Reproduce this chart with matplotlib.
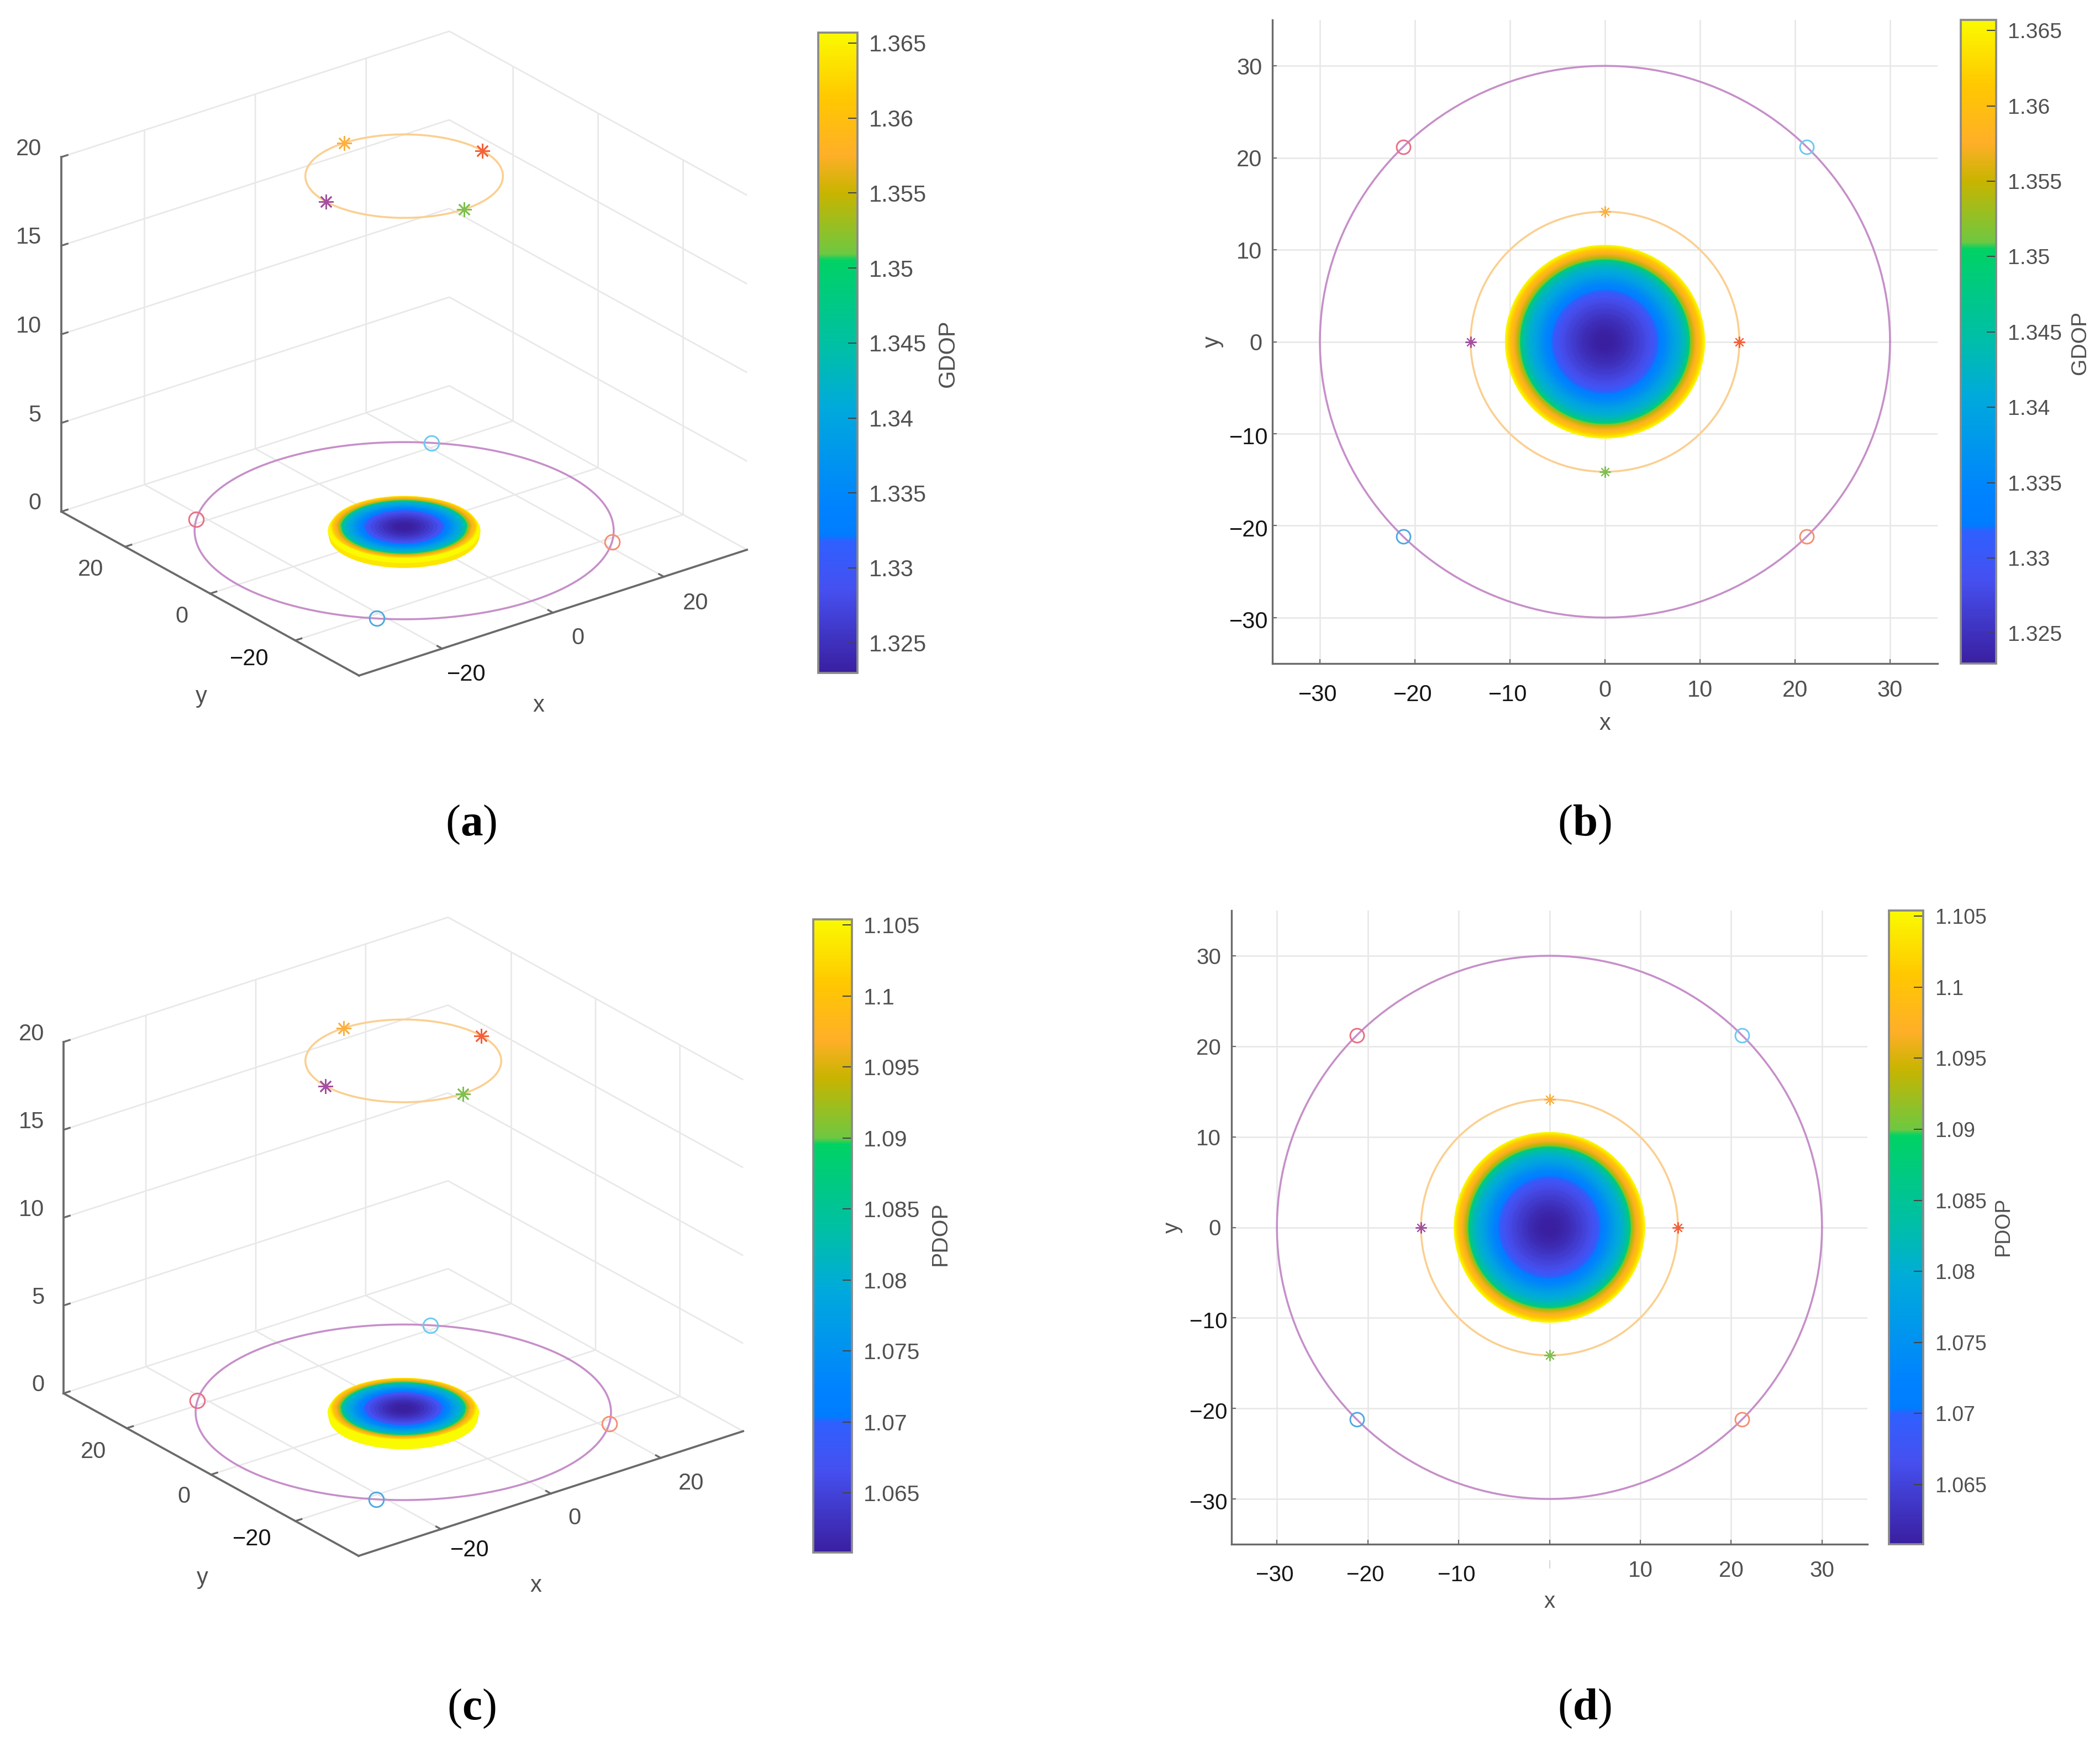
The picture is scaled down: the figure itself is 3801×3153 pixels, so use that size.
import numpy as np
import matplotlib
matplotlib.use("Agg")
import matplotlib.pyplot as plt
from matplotlib.colors import LinearSegmentedColormap, Normalize
from matplotlib.cm import ScalarMappable
from matplotlib.transforms import Affine2D
from mpl_toolkits.mplot3d import proj3d

plt.rcParams['font.family'] = ['Liberation Sans', 'DejaVu Sans']
plt.rcParams['mathtext.fontset'] = 'custom'
plt.rcParams['mathtext.rm'] = 'Liberation Serif'
plt.rcParams['mathtext.bf'] = 'Liberation Serif:bold'
plt.rcParams['grid.color'] = '#e8e8e8'
plt.rcParams['grid.linewidth'] = 0.65

W, H = 3801, 3153

# ground anchors (open circles) and airborne tags (asterisks)
anchor_x = [-21.21, 21.21, -21.21, 21.21]
anchor_y = [21.21, 21.21, -21.21, -21.21]
anchor_colors = ['#e86f86', '#6cc9f0', '#4ea8e0', '#f58f72']
tag_x = [0, 14.14, 0, -14.14]
tag_y = [14.14, 0, -14.14, 0]
tag_colors = ['#fbb040', '#f4603a', '#7fbf50', '#a4509f']
anchor_ring_radius = 30
tag_ring_radius = 14.14
tag_height = 20

# radial profile of the service area, last two stations are the rim seen in 3D
disc_r = [0, 0.6, 1.2, 1.8, 2.4, 3.0, 3.6, 4.2, 4.8, 5.2, 5.5, 5.7, 6.0, 6.4, 6.8, 7.2, 7.6, 8.0,
          8.4, 8.7, 8.9, 9.0, 9.2, 9.4, 9.6, 9.8, 10.0, 10.2, 10.4, 10.5, 10.85, 10.7]
disc_z = [0.19] * 30 + [0.0, -0.3]
gdop = [1.3230, 1.3231, 1.3235, 1.3241, 1.3248, 1.3257, 1.3266, 1.3276, 1.3288, 1.3300, 1.3315,
        1.3326, 1.3337, 1.3354, 1.3373, 1.3392, 1.3405, 1.3420, 1.3439, 1.3465, 1.3499, 1.3512,
        1.3546, 1.3561, 1.3574, 1.3593, 1.3608, 1.3627, 1.3648, 1.3657, 1.3640, 1.3640]
pdop = [1.0608, 1.0609, 1.0613, 1.0619, 1.0627, 1.0636, 1.0646, 1.0656, 1.0668, 1.0682, 1.0697,
        1.0708, 1.0720, 1.0737, 1.0757, 1.0777, 1.0791, 1.0806, 1.0827, 1.0853, 1.0889, 1.0902,
        1.0938, 1.0954, 1.0967, 1.0987, 1.1003, 1.1023, 1.1045, 1.1054, 1.1054, 1.1054]
top_stations = 30

gdop_ticks = [1.325, 1.33, 1.335, 1.34, 1.345, 1.35, 1.355, 1.36, 1.365]
gdop_labels = ['1.325', '1.33', '1.335', '1.34', '1.345', '1.35', '1.355', '1.36', '1.365']
pdop_ticks = [1.065, 1.07, 1.075, 1.08, 1.085, 1.09, 1.095, 1.1, 1.105]
pdop_labels = ['1.065', '1.07', '1.075', '1.08', '1.085', '1.09', '1.095', '1.1', '1.105']
xy_ticks_3d = [-20, 0, 20]
xy_labels_3d = ['\u221220', '0', '20']
z_ticks = [0, 5, 10, 15, 20]
z_labels = ['0', '5', '10', '15', '20']
xy_ticks_2d = [-30, -20, -10, 0, 10, 20, 30]
xy_labels_2d = ['\u221230', '\u221220', '\u221210', '0', '10', '20', '30']

# parula-like map with the hard steps the figure has
cmap_stops = [(0, '#3a1fa0'), (0.13, '#4650f0'), (0.205, '#2f60ff'), (0.215, '#007dff'),
              (0.26, '#0082ff'), (0.415, '#00aadc'), (0.5, '#00beaa'), (0.645, '#00d264'),
              (0.655, '#6ec841'), (0.75, '#c8b400'), (0.81, '#ffaf28'), (0.90, '#ffc800'),
              (1, '#fafa00')]
cmap = LinearSegmentedColormap.from_list('gdop', cmap_stops, N=512)

TEXT = '#505050'
DARK = '#151515'
AXIS = '#6a6a6a'
FS = 10

theta = np.linspace(0, 2 * np.pi, 181)


def rect_px(x0, y0, x1, y1):
    return [x0 / W, 1 - y1 / H, (x1 - x0) / W, (y1 - y0) / H]


def text_px(x, y, s, fs=FS, color=TEXT, **kw):
    return fig.text(x / W, 1 - y / H, s, fontsize=fs, color=color, ha='center', va='center', **kw)


def disc_mesh(values):
    r = np.array(disc_r)
    X = np.outer(r, np.cos(theta))
    Y = np.outer(r, np.sin(theta))
    Z = np.outer(np.array(disc_z), np.ones_like(theta))
    V = np.outer(np.array(values), np.ones_like(theta))
    return X, Y, Z, V


def add_colorbar(box, norm, ticks, labels, name, label_xy, fs):
    cax = fig.add_axes(rect_px(*box))
    cb = fig.colorbar(ScalarMappable(norm=norm, cmap=cmap), cax=cax)
    cb.set_ticks(ticks, labels=labels)
    cb.ax.tick_params(direction='in', length=4, width=0.5, color='#444444',
                      labelsize=fs, labelcolor=TEXT, pad=5)
    cb.outline.set_edgecolor('#8a8a8a')
    cb.outline.set_linewidth(0.9)
    text_px(label_xy[0], label_xy[1], name, fs=fs, rotation=90)


def place_3d(ax, left, right):
    # scale and shift the square axes so the floor corners land where they should
    fig.canvas.draw()
    M = ax.get_proj()
    xl, yl, _ = proj3d.proj_transform(-35, 35, 0, M)
    xr, yr, _ = proj3d.proj_transform(35, -35, 0, M)
    pl = ax.transData.transform((xl, yl))
    pr = ax.transData.transform((xr, yr))
    pos = ax.get_position()
    k = (right[0] - left[0]) / (pr[0] - pl[0])
    side = pos.width * W * k
    x0 = pos.x0 * W + (pl[0] - pos.x0 * W) * k
    y0 = pos.y0 * H + (pl[1] - pos.y0 * H) * k
    new_x = pos.x0 * W + (left[0] - x0)
    new_y = pos.y0 * H + ((H - left[1]) - y0)
    ax.set_position([new_x / W, new_y / H, side / W, side / H])


def panel_3d(values, norm, left, right, xlab, ylab, xpos, ypos, zpos):
    ax = fig.add_axes(rect_px(100, 100, 1300, 1300), projection='3d', proj_type='ortho')
    ax.patch.set_alpha(0)
    ax.view_init(elev=25, azim=-127.5)
    ax.set_box_aspect((1, 1, 0.8))
    ax.set_xlim(-35, 35, view_margin=0)
    ax.set_ylim(-35, 35, view_margin=0)
    ax.set_zlim(0, 20, view_margin=0)
    ax.set_xticks(xy_ticks_3d)
    ax.set_yticks(xy_ticks_3d)
    ax.set_zticks(z_ticks)
    ax.set_xticklabels([''] * 3)
    ax.set_yticklabels([''] * 3)
    ax.set_zticklabels([''] * 5)
    for axis in (ax.xaxis, ax.yaxis, ax.zaxis):
        axis.set_pane_color((1, 1, 1, 1))
        axis.pane.set_edgecolor('white')
        axis.line.set_color(AXIS)
        axis.line.set_linewidth(0.9)
        axis._axinfo['tick']['inward_factor'] = 0.0
        axis._axinfo['tick']['outward_factor'] = 0.2
    ax.tick_params(axis='both', color=AXIS, width=0.6)

    X, Y, Z, V = disc_mesh(values)
    ax.plot_surface(X, Y, Z, facecolors=cmap(norm(V)), rstride=1, cstride=1, shade=False,
                    linewidth=0.3, antialiased=True)
    ax.plot(anchor_ring_radius * np.cos(theta), anchor_ring_radius * np.sin(theta),
            np.zeros_like(theta), color='#c68fc9', lw=0.85)
    ax.plot(tag_ring_radius * np.cos(theta), tag_ring_radius * np.sin(theta),
            np.full_like(theta, tag_height), color='#fbcf90', lw=0.85)
    for x, y, c in zip(anchor_x, anchor_y, anchor_colors):
        ax.plot([x], [y], [0], 'o', mfc='none', mec=c, ms=6.4, mew=0.7)
    for x, y, c in zip(tag_x, tag_y, tag_colors):
        ax.plot([x], [y], [tag_height], ls='none', marker=(8, 2, 0), mec=c, ms=6.5, mew=0.65)
    place_3d(ax, left, right)

    # tick labels sit by hand, axis3d gives no control over their offset
    for s, (px, py) in zip(xy_labels_3d, xpos):
        text_px(px, py, s, color=DARK if s[0] == '\u2212' else TEXT)
    for s, (px, py) in zip(xy_labels_3d, ypos):
        text_px(px, py, s, color=DARK if s[0] == '\u2212' else TEXT)
    for s, (px, py) in zip(z_labels, zpos):
        text_px(px, py, s)
    text_px(xlab[0], xlab[1], 'x')
    text_px(ylab[0], ylab[1], 'y')
    return ax


def panel_2d(box, values, norm, hide_zero, fs, xlabel_y, ylabel_x):
    ax = fig.add_axes(rect_px(*box))
    X, Y, Z, V = disc_mesh(values)
    n = top_stations
    ax.pcolormesh(X[:n], Y[:n], V[:n], cmap=cmap, norm=norm, shading='gouraud')
    ax.plot(anchor_ring_radius * np.cos(theta), anchor_ring_radius * np.sin(theta),
            color='#c68fc9', lw=0.85)
    ax.plot(tag_ring_radius * np.cos(theta), tag_ring_radius * np.sin(theta),
            color='#fbcf90', lw=0.85)
    for x, y, c in zip(anchor_x, anchor_y, anchor_colors):
        ax.plot(x, y, 'o', mfc='none', mec=c, ms=6, mew=0.7)
    for x, y, c in zip(tag_x, tag_y, tag_colors):
        ax.plot(x, y, ls='none', marker=(8, 2, 0), mec=c, ms=4.8, mew=0.5)
    ax.set_xlim(-35, 35)
    ax.set_ylim(-35, 35)
    ax.set_xticks(xy_ticks_2d)
    ax.set_yticks(xy_ticks_2d)
    ax.set_yticklabels(xy_labels_2d)
    ax.set_xticklabels(['|' if (hide_zero and t == '0') else t for t in xy_labels_2d])
    ax.grid(True)
    ax.set_axisbelow(True)
    ax.spines['top'].set_visible(False)
    ax.spines['right'].set_visible(False)
    for s in ('left', 'bottom'):
        ax.spines[s].set_color(AXIS)
        ax.spines[s].set_linewidth(0.8)
    ax.tick_params(direction='in', length=2, width=0.5, color=AXIS, labelsize=fs, labelcolor=TEXT)
    ax.tick_params(axis='x', pad=7)
    ax.tick_params(axis='y', pad=4.5)
    for lab in ax.get_xticklabels()[:3]:
        lab.set_color(DARK)
        lab.set_transform(lab.get_transform() + Affine2D().translate(-4, -8))
    for lab in ax.get_yticklabels()[:3]:
        lab.set_color(DARK)
        lab.set_transform(lab.get_transform() + Affine2D().translate(11, -4))
    if hide_zero:
        ax.get_xticklabels()[3].set_fontsize(4)
        ax.get_xticklabels()[3].set_color('#c4c4c4')
    ax.set_xlabel('x', fontsize=fs, color=TEXT, va='center')
    ax.set_ylabel('y', fontsize=fs, color=TEXT, va='center')
    ax.xaxis.set_label_coords(0.5, (box[3] - xlabel_y) / (box[3] - box[1]))
    ax.yaxis.set_label_coords((ylabel_x - box[0]) / (box[2] - box[0]), 0.5)
    return ax


fig = plt.figure(figsize=(W / 300, H / 300), dpi=300)

norm_g = Normalize(1.3230, 1.3657)
norm_p = Normalize(1.0608, 1.1054)

panel_3d(gdop, norm_g, (111, 926), (1352, 998), (975, 1277), (364, 1261),
         [(844, 1221), (1046, 1155), (1259, 1092)],
         [(451, 1193), (329, 1116), (164, 1031)],
         [(63, 911), (63, 752), (52, 591), (52, 430), (52, 270)])
add_colorbar((1481, 59, 1552, 1218), norm_g, gdop_ticks, gdop_labels, 'GDOP', (1716, 640), FS)

panel_2d((2303, 36, 3507, 1201), gdop, norm_g, False, FS, 1310, 2195)
add_colorbar((3549, 36, 3613, 1201), norm_g, gdop_ticks, gdop_labels, 'GDOP', (3765, 620), 9.4)

panel_3d(pdop, norm_p, (115, 2522), (1345, 2593), (970, 2870), (366, 2856),
         [(850, 2806), (1040, 2748), (1251, 2685)],
         [(456, 2786), (333, 2709), (169, 2628)],
         [(69, 2507), (69, 2349), (57, 2190), (57, 2031), (57, 1872)])
add_colorbar((1472, 1664, 1542, 2810), norm_p, pdop_ticks, pdop_labels, 'PDOP', (1702, 2233), 9.8)

panel_2d((2229, 1648, 3380, 2795), pdop, norm_p, True, 9.7, 2899, 2122)
add_colorbar((3419, 1648, 3481, 2795), norm_p, pdop_ticks, pdop_labels, 'PDOP', (3626, 2220), 9)

for lab, px, py in [('a', 853, 1493), ('b', 2868, 1493), ('c', 853, 3093), ('d', 2868, 3093)]:
    text_px(px, py, '($\\mathbf{%s}$)' % lab, fs=19.5, color='black', family='Liberation Serif')

fig.savefig('out.png', dpi=300, facecolor='white')
